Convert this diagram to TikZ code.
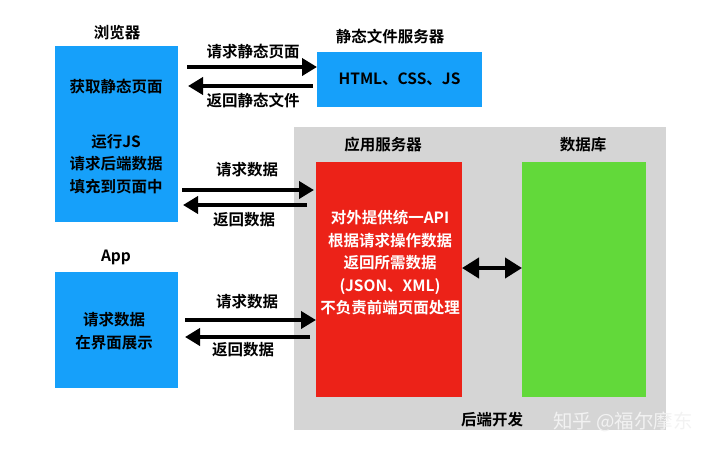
\documentclass[tikz,border=0pt]{standalone}
\usepackage{fontspec}
\setmainfont{Noto Sans CJK SC}[BoldFont={Noto Sans CJK SC Bold}]
\usetikzlibrary{positioning,arrows.meta}

\definecolor{boxblue}{RGB}{22,160,250}
\definecolor{srvred}{RGB}{236,34,24}
\definecolor{dbgreen}{RGB}{98,217,58}
\definecolor{backgray}{RGB}{213,213,213}

\begin{document}
\begin{tikzpicture}[x=1pt,y=-1pt,
  box/.style={inner sep=0pt, outer sep=0pt},
  txt/.style={font=\fontsize{15.5}{22.5}\selectfont\bfseries, align=center, inner sep=0pt},
  arr/.style={line width=4pt, -{Triangle[length=15pt,width=17pt]}},
  dbarr/.style={line width=4pt, {Triangle[length=17pt,width=20pt]}-{Triangle[length=17pt,width=20pt]}}]

\useasboundingbox (0,0) rectangle (720,453);

%%% 箱
\node[box, fill=backgray, minimum width=372pt, minimum height=303pt] (backend) at (480,278.5) {};
\node[box, fill=boxblue, minimum width=123pt, minimum height=176pt] (browser) at (116.5,134) {};
\node[box, fill=boxblue, minimum width=165pt, minimum height=55pt, txt] (staticsrv) at (399.5,79.5) {HTML、CSS、JS};
\node[box, fill=srvred, minimum width=146pt, minimum height=235pt] (appsrv) at (389,279.5) {};
\node[box, fill=dbgreen, minimum width=124pt, minimum height=235pt] (db) at (584,279.5) {};
\node[box, fill=boxblue, minimum width=123pt, minimum height=116pt] (app) at (116.5,330) {};
%%%

%% 見出し
\node[txt] (browsertitle) at (117,33) {浏览器};
\node[txt] (statictitle) at (390,37) {静态文件服务器};
\node[txt] (appsrvtitle) at (383,145) {应用服务器};
\node[txt] (dbtitle) at (583,145) {数据库};
\node[txt] (apptitle) at (116,257) {App};
\node[txt] (backendtitle) at (492,420) {后端开发};

%% 中身
\node[txt] (fetchtext) at (116,87) {获取静态页面};
\node[txt] (runtext) at (116,164) {运行JS\\请求后端数据\\填充到页面中};
\node[txt] (showtext) at (114,331) {请求数据\\在界面展示};
\node[txt, text=white] (apitext) at (390,263) {对外提供统一API\\根据请求操作数据\\返回所需数据\\(JSON、XML)\\不负责前端页面处理};

%% 矢印
\draw[arr, shorten <=9pt] (browser.east |- 0,67) -- (staticsrv.west |- 0,67);
\draw[arr, shorten <=4pt, shorten >=10pt] (staticsrv.west |- 0,86) -- (browser.east |- 0,86);
\draw[arr, shorten <=4pt, shorten >=2pt] (browser.east |- 0,190) -- (appsrv.west |- 0,190);
\draw[arr, shorten <=9pt, shorten >=5pt] (appsrv.west |- 0,205) -- (browser.east |- 0,205);
\draw[arr, shorten <=7pt] (app.east |- 0,320) -- (appsrv.west |- 0,320);
\draw[arr, shorten <=6pt, shorten >=7pt] (appsrv.west |- 0,337) -- (app.east |- 0,337);
\draw[dbarr] (appsrv.east |- 0,268) -- (db.west |- 0,268);

%% ラベル
\node[txt] (reqstatic) at (253,52) {请求静态页面};
\node[txt] (retstatic) at (253,101) {返回静态文件};
\node[txt] (reqdata1) at (247,170) {请求数据};
\node[txt] (retdata1) at (244,220) {返回数据};
\node[txt] (reqdata2) at (247,302) {请求数据};
\node[txt] (retdata2) at (243,350) {返回数据};

% 透かし
\node[font=\fontsize{19.5}{20}\selectfont, text=gray!10, inner sep=0pt] (mark) at (623,422) {知乎 @福尔摩东};

\end{tikzpicture}
\end{document}
